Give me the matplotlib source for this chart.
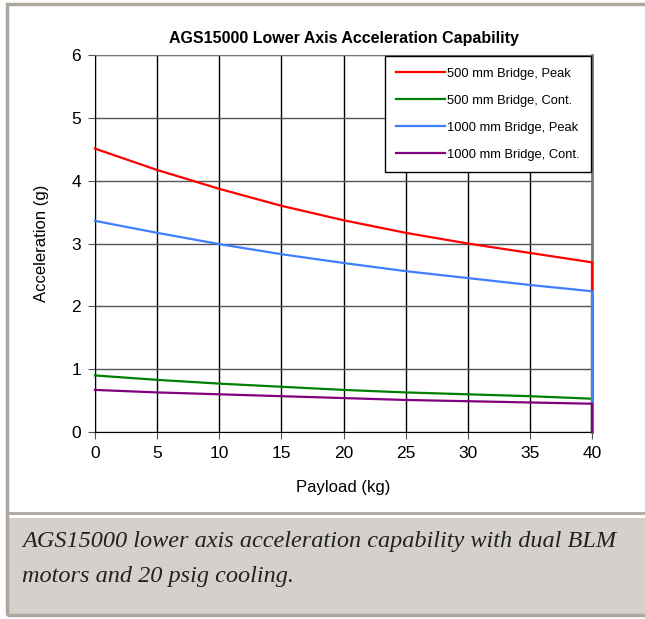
import numpy as np
import matplotlib
matplotlib.use("Agg")
import matplotlib.pyplot as plt
from matplotlib.patches import Rectangle

plt.rcParams['font.family'] = ['Liberation Sans', 'DejaVu Sans']

# payload points (kg); the last point repeats 40 where the curves drop to zero
payload = [0, 5, 10, 15, 20, 25, 30, 35, 40, 40]
peak_500 = [4.51, 4.17, 3.87, 3.60, 3.37, 3.17, 3.00, 2.85, 2.70, 0]
cont_500 = [0.90, 0.83, 0.77, 0.72, 0.67, 0.63, 0.60, 0.57, 0.53, 0]
peak_1000 = [3.36, 3.17, 2.99, 2.83, 2.69, 2.56, 2.45, 2.34, 2.24, 0]
cont_1000 = [0.67, 0.63, 0.60, 0.57, 0.54, 0.51, 0.49, 0.47, 0.45, 0]

labels = ['500 mm Bridge, Peak', '500 mm Bridge, Cont.',
          '1000 mm Bridge, Peak', '1000 mm Bridge, Cont.']
colors = ['#ff0000', '#008000', '#3f7fff', '#800080']
caption = ("AGS15000 lower axis acceleration capability with dual BLM\n"
           "motors and 20 psig cooling.")

W, H = 645, 619
fig = plt.figure(figsize=(W / 100, H / 100), dpi=100)

# page background: white chart panel and grey caption panel
fig.patches.append(Rectangle((7 / W, 4 / H), 1, 97 / H, transform=fig.transFigure,
                             facecolor='#d4d0cb', edgecolor='none'))
fig.patches.append(Rectangle((7 / W, 4 / H), 1, (H - 8) / H, transform=fig.transFigure,
                             facecolor='none', edgecolor='#aca79f', linewidth=2.5))
fig.lines.append(plt.Line2D([7 / W, 1], [(H - 513) / H] * 2, transform=fig.transFigure,
                            color='#aca79f', linewidth=2))

ax = fig.add_axes([95 / W, (H - 432) / H, 497 / W, 377 / H])
for vals, lab, c in zip([peak_500, cont_500, peak_1000, cont_1000], labels, colors):
    ax.plot(payload, vals, color=c, linewidth=1.6, label=lab, zorder=3, clip_on=False)

ax.set_xlim(0, 40)
ax.set_ylim(0, 6)
ax.set_xticks(np.arange(0, 41, 5))
ax.set_yticks(np.arange(0, 7, 1))
ax.xaxis.grid(True, color='black', linewidth=1)
ax.yaxis.grid(True, color='#555555', linewidth=1)
ax.set_axisbelow(True)
ax.tick_params(labelsize=12.5, length=5, direction='out', color='#555555', pad=5)
for s in ['top', 'right']:
    ax.spines[s].set_color('#777777')
ax.spines['right'].set_linewidth(2)
ax.spines['left'].set_color('black')
ax.spines['bottom'].set_color('black')

ax.set_title('AGS15000 Lower Axis Acceleration Capability', fontsize=11.5,
             fontweight='bold', pad=9)
ax.set_xlabel('Payload (kg)', fontsize=12, labelpad=14)
ax.set_ylabel('Acceleration (g)', fontsize=12, labelpad=16)

leg = ax.legend(loc='upper right', fontsize=9.3, handlelength=3.8, handletextpad=0.1,
                labelspacing=1.15, borderpad=0.9, fancybox=False, framealpha=1,
                borderaxespad=0.1)
leg.get_frame().set_edgecolor('black')
leg.get_frame().set_linewidth(1)

fig.text(22 / W, (H - 531) / H, caption, fontsize=17.5, style='italic',
         family='Liberation Serif', va='top', ha='left', linespacing=1.85, color='#222222')

fig.savefig('out.png', dpi=100)
